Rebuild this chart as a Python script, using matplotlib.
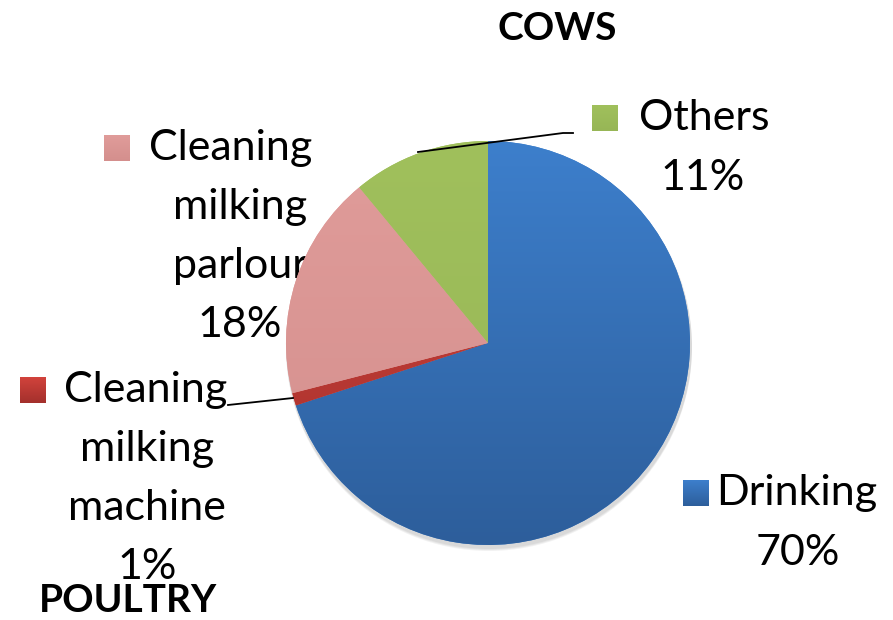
import matplotlib.pyplot as plt
import numpy as np

plt.rcParams['font.family'] = ['Lato', 'DejaVu Sans']

labels = ['Drinking', 'Cleaning\nmilking\nmachine', 'Cleaning\nmilking\nparlour', 'Others']
shares = [70, 1, 18, 11]
# gradient colours for each slice, top then bottom
top_colors = ['#3d7fcc', '#d2433c', '#e09c9a', '#a0c05c']
bottom_colors = ['#2d5e9b', '#a3302c', '#d48f8d', '#97b656']

W, H = 893, 620
fig = plt.figure(figsize=(W / 100, H / 100), dpi=100)
ax = fig.add_axes([0, 0, 1, 1])
ax.set_aspect('equal')
ax.axis('off')

cx, cy, r = 488, H - 343, 202

# soft shadow under the pie
for k in range(3):
    sh = plt.Circle((cx + 1, cy - 3 - k), r + 1, color='black', alpha=0.05, lw=0, zorder=1)
    ax.add_patch(sh)

wedges, _ = ax.pie(shares, center=(cx, cy), radius=r, startangle=90,
                   counterclock=False, frame=True,
                   wedgeprops=dict(linewidth=0))

grad = np.linspace(0, 1, 256).reshape(-1, 1)
for w, c0, c1 in zip(wedges, top_colors, bottom_colors):
    w.set_zorder(3)
    w.set_facecolor(c0)
    cmap = plt.matplotlib.colors.LinearSegmentedColormap.from_list('g', [c1, c0])
    im = ax.imshow(grad, cmap=cmap, extent=(cx - r, cx + r, cy - r, cy + r),
                   origin='lower', aspect='auto', zorder=3.5, interpolation='bicubic')
    im.set_clip_path(w)

ax.set_xlim(0, W)
ax.set_ylim(0, H)
ax.axis('off')

fs = 31
line_gap = 59

def block(x, y_top, lines, zorder=2):
    for i, t in enumerate(lines):
        ax.text(x, H - (y_top + i * line_gap), t, ha='center', va='center',
                fontsize=fs, color='black', zorder=zorder)

def key(x, y, c0, c1):
    cmap = plt.matplotlib.colors.LinearSegmentedColormap.from_list('k', [c1, c0])
    ax.imshow(grad, cmap=cmap, extent=(x - 13, x + 13, H - y - 13, H - y + 13),
              origin='lower', aspect='auto', zorder=2)

# Drinking
key(696, 493, top_colors[0], bottom_colors[0])
ax.text(716, H - 493, labels[0], ha='left', va='center', fontsize=fs, zorder=2)
ax.text(798, H - 553, f'{shares[0]}%', ha='center', va='center', fontsize=fs, zorder=2)

# Cleaning milking machine
key(33, 390, top_colors[1], bottom_colors[1])
ax.text(64, H - 390, 'Cleaning', ha='left', va='center', fontsize=fs, zorder=2)
block(147, 390 + line_gap, ['milking', 'machine', f'{shares[1]}%'])

# Cleaning milking parlour
key(117, 148, top_colors[2], bottom_colors[2])
ax.text(149, H - 148, 'Cleaning', ha='left', va='center', fontsize=fs, zorder=2)
block(240, 148 + line_gap, ['milking', 'parlour', f'{shares[2]}%'])

# Others
key(605, 118, top_colors[3], bottom_colors[3])
ax.text(639, H - 118, labels[3], ha='left', va='center', fontsize=fs, zorder=2)
ax.text(703, H - 178, f'{shares[3]}%', ha='center', va='center', fontsize=fs, zorder=2)

# leader lines
ax.plot([418, 563, 573], [H - 152, H - 133, H - 133], color='black', lw=1.3, zorder=5)
ax.plot([228, 293], [H - 405, H - 398], color='black', lw=1.3, zorder=5)

ax.text(557, H - 29, 'COWS', ha='center', va='center', fontsize=28,
        fontweight='bold', zorder=6)
ax.text(128, H - 600, 'POULTRY', ha='center', va='center', fontsize=28,
        fontweight='bold', zorder=6)

fig.savefig('out.png', dpi=100)
